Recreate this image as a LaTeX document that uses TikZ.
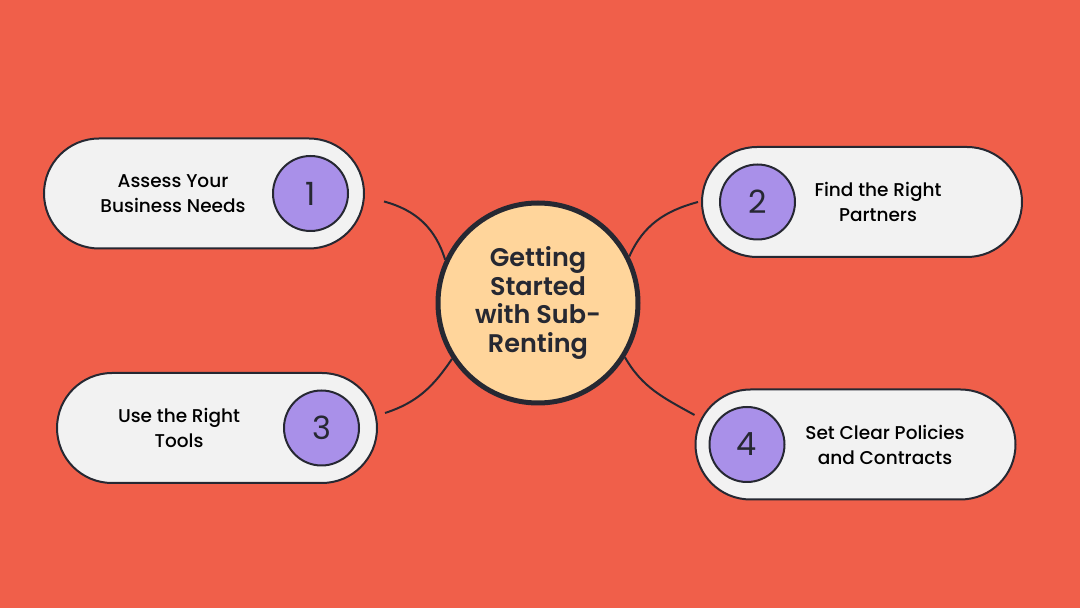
\documentclass[tikz,border=0pt]{standalone}
\usepackage{fontspec}
\setmainfont{Poppins}[UprightFont=* Medium]
\newfontfamily\hubfont{Poppins}[UprightFont=* SemiBold]
\newfontfamily\numfont{Poppins}
\usetikzlibrary{positioning}

\definecolor{bgred}{HTML}{F05F4A}
\definecolor{peach}{HTML}{FFD59B}
\definecolor{numpurple}{HTML}{A990E9}
\definecolor{pillgrey}{HTML}{F2F2F2}
\definecolor{ink}{HTML}{262832}

\begin{document}
\begin{tikzpicture}[x=1pt,y=1pt,
	hub/.style={circle,draw=ink,line width=5pt,fill=peach,minimum size=200pt,inner sep=0pt,align=center,text=ink,font=\hubfont\fontsize{25.5}{28.5}\selectfont},
	pill/.style={draw=ink,line width=2pt,fill=pillgrey,rounded corners=55pt,minimum width=320pt,minimum height=110pt,outer sep=0pt},
	num/.style={circle,draw=ink,line width=2pt,fill=numpurple,minimum size=75pt,inner sep=0pt,text=ink,font=\numfont\fontsize{32}{32}\selectfont},
	steptext/.style={align=center,text=black,font=\fontsize{18.5}{25}\selectfont},
	link/.style={draw=ink,line width=2pt}]
	\fill[bgred] (0,0) rectangle (1080,608);
	\useasboundingbox (0,0) rectangle (1080,608);

	\node[hub] (hub) at (538,305) {Getting\\Started\\with Sub-\\Renting};

	\node[pill] (p1) at (204,414.5) {};
	\node[num,left=15pt of p1.east] (n1) {1};
	\node[steptext] (t1) at ([xshift=-31pt]p1.center) {Assess Your\\Business Needs};

	\node[pill] (p2) at (862,406) {};
	\node[num,right=17pt of p2.west] (n2) {2};
	\node[steptext] (t2) at ([xshift=16pt]p2.center) {Find the Right\\Partners};

	\node[pill] (p3) at (217,180) {};
	\node[num,left=17pt of p3.east] (n3) {3};
	\node[steptext] (t3) at ([xshift=-38pt]p3.center) {Use the Right\\Tools};

	\node[pill] (p4) at (855.5,163.5) {};
	\node[num,right=13pt of p4.west] (n4) {4};
	\node[steptext] (t4) at ([xshift=29.5pt]p4.center) {Set Clear Policies\\and Contracts};

	\draw[link] ([shift={(20pt,-8pt)}]p1.east) to[out=-15,in=107] (hub.155);
	\draw[link] ([xshift=-4pt]p2.west) to[out=195,in=66] (hub.27);
	\draw[link] ([shift={(8pt,15pt)}]p3.east) to[out=18,in=236] (hub.213);
	\draw[link] ([shift={(-1pt,29.5pt)}]p4.west) to[out=151,in=-60] (hub.-32);
\end{tikzpicture}
\end{document}
